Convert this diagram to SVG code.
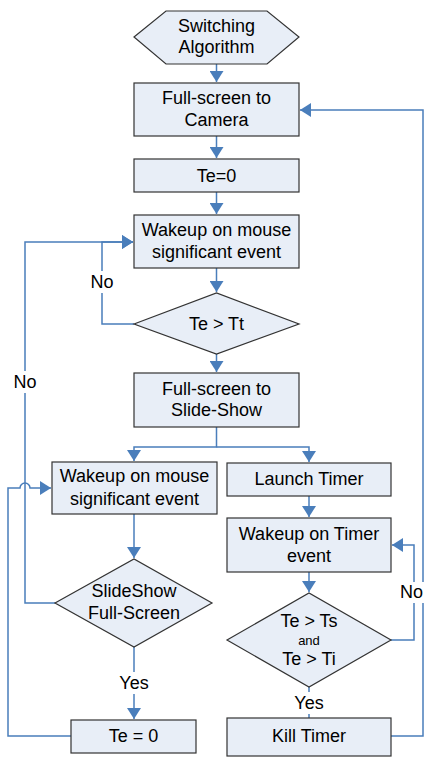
<svg xmlns="http://www.w3.org/2000/svg" width="424" height="757" viewBox="0 0 424 757">
  <style>
    .node { fill: #E8EEF7; stroke: #333333; stroke-width: 1.2; }
    .txt { font-family: "Liberation Sans", Arial, sans-serif; font-size: 18px; fill: #000; text-anchor: middle; dominant-baseline: central; }
    .small { font-size: 13px; }
    .edge { fill: none; stroke: #4A7EBB; stroke-width: 1.5; }
    .lblbg { fill: #fff; }
  </style>
  <defs>
    <marker id="arrow" markerUnits="userSpaceOnUse" markerWidth="12" markerHeight="14" refX="11" refY="7" orient="auto">
      <path d="M0 0 L11 7 L0 14 Z" fill="#4A7EBB"/>
    </marker>
  </defs>

  <g id="connectors">
    <path class="edge" d="M216.5 64 V82" marker-end="url(#arrow)"/>
    <path class="edge" d="M216.5 136 V158" marker-end="url(#arrow)"/>
    <path class="edge" d="M216.5 192 V214" marker-end="url(#arrow)"/>
    <path class="edge" d="M216.5 268 V292" marker-end="url(#arrow)"/>
    <path class="edge" d="M216.5 354 V372" marker-end="url(#arrow)"/>
    <path class="edge" d="M134 324 H102 V242 H133" marker-end="url(#arrow)"/>
    <path class="edge" d="M216.5 427 V447 H134 V461" marker-end="url(#arrow)"/>
    <path class="edge" d="M216.5 447 H309 V462" marker-end="url(#arrow)"/>
    <path class="edge" d="M134 514 V558" marker-end="url(#arrow)"/>
    <path class="edge" d="M55 603 H25 V242 H133" marker-end="url(#arrow)"/>
    <path class="edge" d="M71 736 H8 V488 H20 A5 5 0 0 1 30 488 H51" marker-end="url(#arrow)"/>
    <path class="edge" d="M134 647 V719" marker-end="url(#arrow)"/>
    <path class="edge" d="M309 496 V517" marker-end="url(#arrow)"/>
    <path class="edge" d="M309 572 V592" marker-end="url(#arrow)"/>
    <path class="edge" d="M391 640 H414 V545 H392" marker-end="url(#arrow)"/>
    <path class="edge" d="M309 687 V718"/>
    <path class="edge" d="M391 736 H423 V110 H300" marker-end="url(#arrow)"/>
    <!-- edge labels -->
    <rect class="lblbg" x="89" y="271" width="28" height="22"/>
    <text class="txt" x="102" y="282">No</text>
    <rect class="lblbg" x="11" y="371" width="28" height="22"/>
    <text class="txt" x="25" y="382">No</text>
    <rect class="lblbg" x="116" y="672" width="36" height="22"/>
    <text class="txt" x="134" y="683">Yes</text>
    <rect class="lblbg" x="291" y="692" width="36" height="22"/>
    <text class="txt" x="309" y="703">Yes</text>
    <rect class="lblbg" x="400" y="582" width="24" height="21"/>
    <text class="txt" x="411.5" y="592">No</text>
  </g>

  <g id="start">
    <polygon class="node" points="134,37 166,11 267,11 299,37 267,64 166,64"/>
    <text class="txt" x="216.5" y="26">Switching</text>
    <text class="txt" x="216.5" y="47">Algorithm</text>
  </g>
  <g id="fullscreen-camera">
    <rect class="node" x="134" y="83" width="165" height="53"/>
    <text class="txt" x="216.5" y="98">Full-screen to</text>
    <text class="txt" x="216.5" y="120">Camera</text>
  </g>
  <g id="te-reset-1">
    <rect class="node" x="134" y="159" width="165" height="33"/>
    <text class="txt" x="216.5" y="176">Te=0</text>
  </g>
  <g id="wakeup-mouse-1">
    <rect class="node" x="134" y="215" width="165" height="53"/>
    <text class="txt" x="216.5" y="230">Wakeup on mouse</text>
    <text class="txt" x="216.5" y="252">significant event</text>
  </g>
  <g id="check-tt">
    <polygon class="node" points="134,324 216.5,293 299,324 216.5,354"/>
    <text class="txt" x="216.5" y="324">Te &gt; Tt</text>
  </g>
  <g id="fullscreen-slideshow">
    <rect class="node" x="134" y="373" width="165" height="54"/>
    <text class="txt" x="216.5" y="389">Full-screen to</text>
    <text class="txt" x="216.5" y="410">Slide-Show</text>
  </g>
  <g id="wakeup-mouse-2">
    <rect class="node" x="52" y="462" width="165" height="52"/>
    <text class="txt" x="134.5" y="476">Wakeup on mouse</text>
    <text class="txt" x="134.5" y="499">significant event</text>
  </g>
  <g id="check-slideshow">
    <polygon class="node" points="55,603 134,559 212,603 134,647"/>
    <text class="txt" x="134" y="591">SlideShow</text>
    <text class="txt" x="134" y="613">Full-Screen</text>
  </g>
  <g id="te-reset-2">
    <rect class="node" x="71" y="720" width="125" height="33"/>
    <text class="txt" x="133.5" y="736">Te = 0</text>
  </g>
  <g id="launch-timer">
    <rect class="node" x="227" y="463" width="164" height="33"/>
    <text class="txt" x="309" y="479">Launch Timer</text>
  </g>
  <g id="wakeup-timer">
    <rect class="node" x="227" y="518" width="164" height="54"/>
    <text class="txt" x="309" y="534">Wakeup on Timer</text>
    <text class="txt" x="309" y="556">event</text>
  </g>
  <g id="check-ts-ti">
    <polygon class="node" points="227,640 309,593 391,640 309,687"/>
    <text class="txt" x="309" y="621">Te &gt; Ts</text>
    <text class="txt small" x="309" y="640">and</text>
    <text class="txt" x="309" y="659">Te &gt; Ti</text>
  </g>
  <g id="kill-timer">
    <rect class="node" x="227" y="718" width="164" height="38"/>
    <text class="txt" x="309" y="736">Kill Timer</text>
  </g>
</svg>
